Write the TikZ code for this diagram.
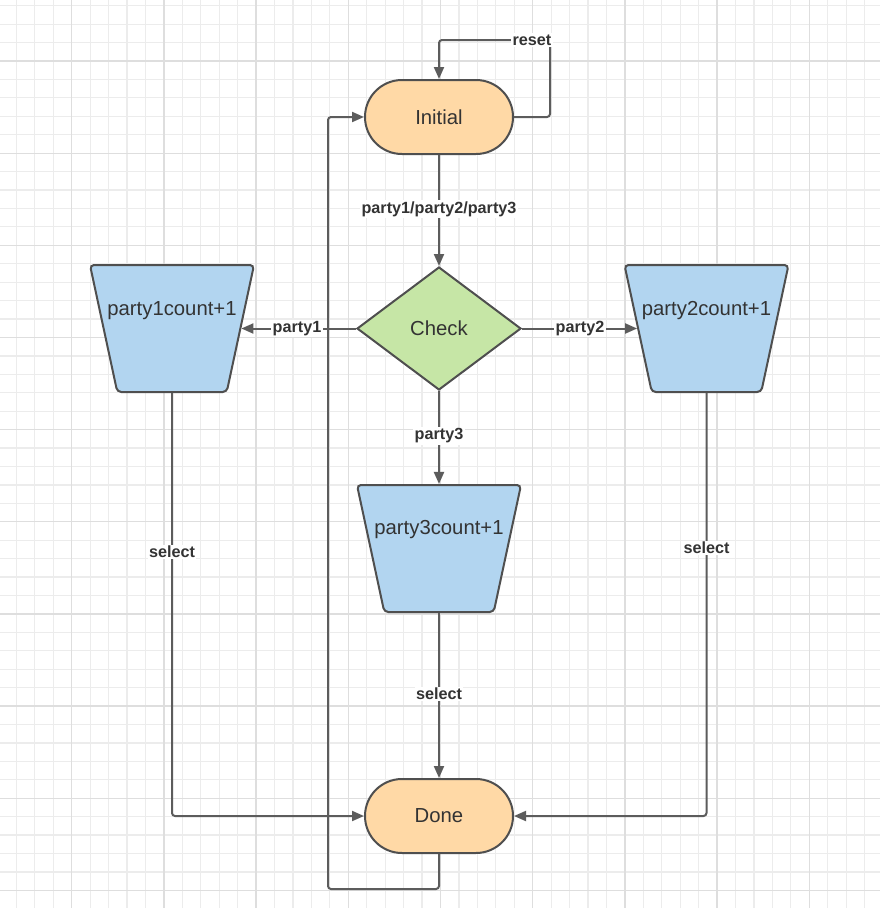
\documentclass[tikz,border=0pt]{standalone}
\usepackage{fontspec}
\setmainfont{Liberation Sans}
\usetikzlibrary{shapes.geometric,arrows.meta}
\definecolor{gridminor}{HTML}{ECECEC}
\definecolor{gridmajor}{HTML}{DEDEDE}
\definecolor{linec}{HTML}{5C5C5C}
\definecolor{borderc}{HTML}{4F4F4F}
\definecolor{peach}{HTML}{FFD9A6}
\definecolor{greenf}{HTML}{C6E6A6}
\definecolor{bluef}{HTML}{B2D5F0}
\definecolor{textc}{HTML}{333333}
\tikzset{
  stadium/.style={rectangle, rounded corners=37pt, draw=borderc, line width=2pt, fill=peach,
    minimum width=148pt, minimum height=74pt, text=textc, font=\fontsize{20.3}{24}\selectfont},
  decide/.style={diamond, draw=borderc, line width=2pt, fill=greenf, minimum width=164pt,
    minimum height=123pt, inner sep=0pt, text=textc, font=\fontsize{20.3}{24}\selectfont},
  trap/.style={trapezium, trapezium stretches=true, shape border rotate=180,
    trapezium left angle=76, trapezium right angle=76, minimum width=164pt, minimum height=127pt,
    draw=borderc, line width=2pt, fill=bluef, rounded corners=4pt},
  traptext/.style={text=textc, font=\fontsize{20.3}{24}\selectfont, inner sep=0pt},
  conn/.style={draw=linec, line width=2pt, -{Triangle[length=12pt,width=10pt]}},
  lbl/.style={fill=white, inner sep=1.5pt, text=textc, font=\bfseries\fontsize{16.2}{19}\selectfont}
}
\begin{document}
\begin{tikzpicture}[x=1pt,y=-1pt]
\useasboundingbox (0,0) rectangle (880,908);
\fill[white] (0,0) rectangle (880,908);
% grid
\foreach \i in {1,...,48} \draw[gridminor, line width=1.2pt] ({-2.06+18.44*\i},0) -- ({-2.06+18.44*\i},908);
\foreach \i in {1,...,50} \draw[gridminor, line width=1.2pt] (0,{-12.7+18.43*\i}) -- (880,{-12.7+18.43*\i});
\foreach \i in {0,...,8} \draw[gridmajor, line width=1.3pt] ({71.7+92.2*\i},0) -- ({71.7+92.2*\i},908);
\foreach \i in {0,...,9} \draw[gridmajor, line width=1.3pt] (0,{61+92.15*\i}) -- (880,{61+92.15*\i});

% nodes
\node[stadium] (init) at (439,117) {Initial};
\node[stadium] (done) at (439,816) {Done};
\node[decide] (chk) at (439,328.5) {Check};
\node[trap] (p1) at (172,328.5) {};
\node[traptext] (t1) at (172,311) {party1count+1};
\node[trap] (p2) at (706.5,328.5) {};
\node[traptext] (t2) at (706.5,311) {party2count+1};
\node[trap] (p3) at (439,548.5) {};
\node[traptext] (t3) at (439,530) {party3count+1};

\coordinate (rr) at (550,40);
\coordinate (lb) at (328,889);
\coordinate (lt) at (328,117);

% connectors
\draw[conn, rounded corners=3pt] (init.east) -| (rr) -| (init.north);
\node[lbl] (lreset) at (532,40) {reset};

\draw[conn] (init.south) -- (chk.north) node[lbl, pos=0.49] (l0) {party1/party2/party3};
\draw[conn] (chk.west) -- (p1);
\node[lbl] (l1) at (297,328.5) {party1};
\draw[conn] (chk.east) -- (p2);
\node[lbl] (l2) at (580,328.5) {party2};
\draw[conn] (chk.south) -- (p3.north);
\node[lbl] (l3) at (439,436) {party3};

\draw[conn, rounded corners=3pt] (p1.south) |- (done.west);
\node[lbl] (s1) at (172,552) {select};
\draw[conn, rounded corners=3pt] (p2.south) |- (done.east);
\node[lbl] (s2) at (706.5,548) {select};
\draw[conn] (p3.south) -- (done.north);
\node[lbl] (s3) at (439,694) {select};

\draw[conn, rounded corners=3pt] (done.south) |- (lb) -- (lt) -- (init.west);
\end{tikzpicture}
\end{document}
